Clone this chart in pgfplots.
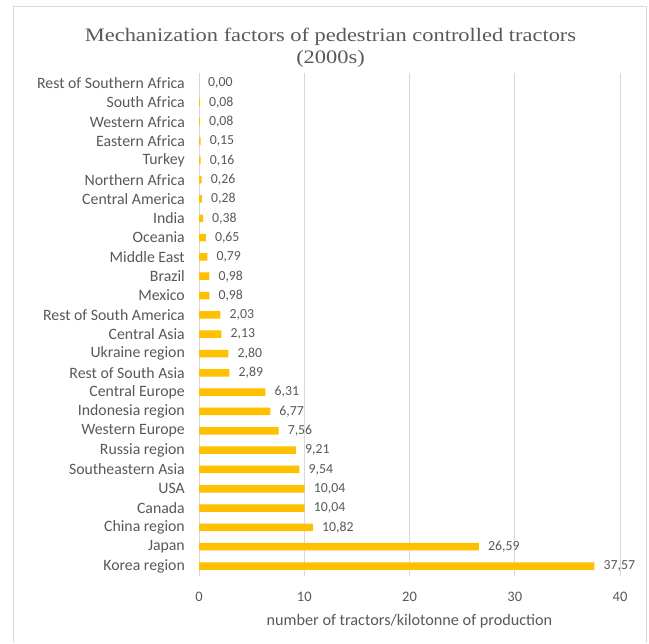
\documentclass[border=0pt]{standalone}
\usepackage{fontspec}
\setmainfont{Carlito}
\newfontfamily\titlefont[FakeStretch=1.18]{Liberation Serif}
\usepackage{pgfplots}
\pgfplotsset{compat=1.18}
\definecolor{txt}{HTML}{595959}
\definecolor{gridc}{HTML}{D9D9D9}
\definecolor{barc}{HTML}{FFC000}
\begin{document}
\begin{tikzpicture}[x=1bp,y=1bp]
\path[fill=white] (0,0) rectangle (649,643);
\draw[gridc, line width=1bp] (13,0) -- (13,636) -- (646,636) -- (646,0);
\node[anchor=base, font=\titlefont\fontsize{19bp}{23bp}\selectfont, text=txt, inner sep=0] at (330.5,601) {Mechanization factors of pedestrian controlled tractors};
\node[anchor=base, font=\titlefont\fontsize{19bp}{23bp}\selectfont, text=txt, inner sep=0] at (330.5,579.5) {(2000s)};
\begin{axis}[
  at={(199bp,67.3bp)}, anchor=south west,
  scale only axis, width=421bp, height=502.3bp,
  xbar, bar width=7.5bp,
  xmin=0, xmax=40, ymin=-0.5, ymax=25.5,
  xtick={0,10,20,30,40},
  ytick={0,...,25},
  yticklabels={Korea region, Japan, China region, Canada, USA, Southeastern Asia, Russia region, Western Europe, Indonesia region, Central Europe, Rest of South Asia, Ukraine region, Central Asia, Rest of South America, Mexico, Brazil, Middle East, Oceania, India, Central America, Northern Africa, Turkey, Eastern Africa, Western Africa, South Africa, Rest of Southern Africa},
  /pgf/number format/assume math mode=true,
  xmajorgrids, grid style={gridc, line width=0.9bp},
  axis line style={draw=none},
  major tick length=0pt,
  yticklabel style={font=\fontsize{15.8bp}{17bp}\selectfont, text=txt, anchor=east, inner sep=0pt, xshift=-14bp},
  xticklabel style={font=\fontsize{14.5bp}{16bp}\selectfont, text=txt, anchor=base, inner sep=0pt, yshift=-26bp},
  xlabel={number of tractors/kilotonne of production},
  xlabel style={font=\fontsize{16.2bp}{18bp}\selectfont, text=txt, anchor=base, inner sep=0pt, at={(axis description cs:0.5,0)}, yshift=-50bp},
  point meta=x,
  nodes near coords={\pgfmathprintnumber[fixed,fixed zerofill,precision=2,use comma,assume math mode=true]{\pgfplotspointmeta}},
  nodes near coords style={font=\fontsize{13.8bp}{15bp}\selectfont, text=txt, anchor=west, inner sep=0pt, xshift=9bp},
]
\addplot[fill=barc, draw=none] coordinates {(37.57,0) (26.59,1) (10.82,2) (10.04,3) (10.04,4) (9.54,5) (9.21,6) (7.56,7) (6.77,8) (6.31,9) (2.89,10) (2.80,11) (2.13,12) (2.03,13) (0.98,14) (0.98,15) (0.79,16) (0.65,17) (0.38,18) (0.28,19) (0.26,20) (0.16,21) (0.15,22) (0.08,23) (0.08,24) (0.00,25)};
\end{axis}
\end{tikzpicture}
\end{document}
